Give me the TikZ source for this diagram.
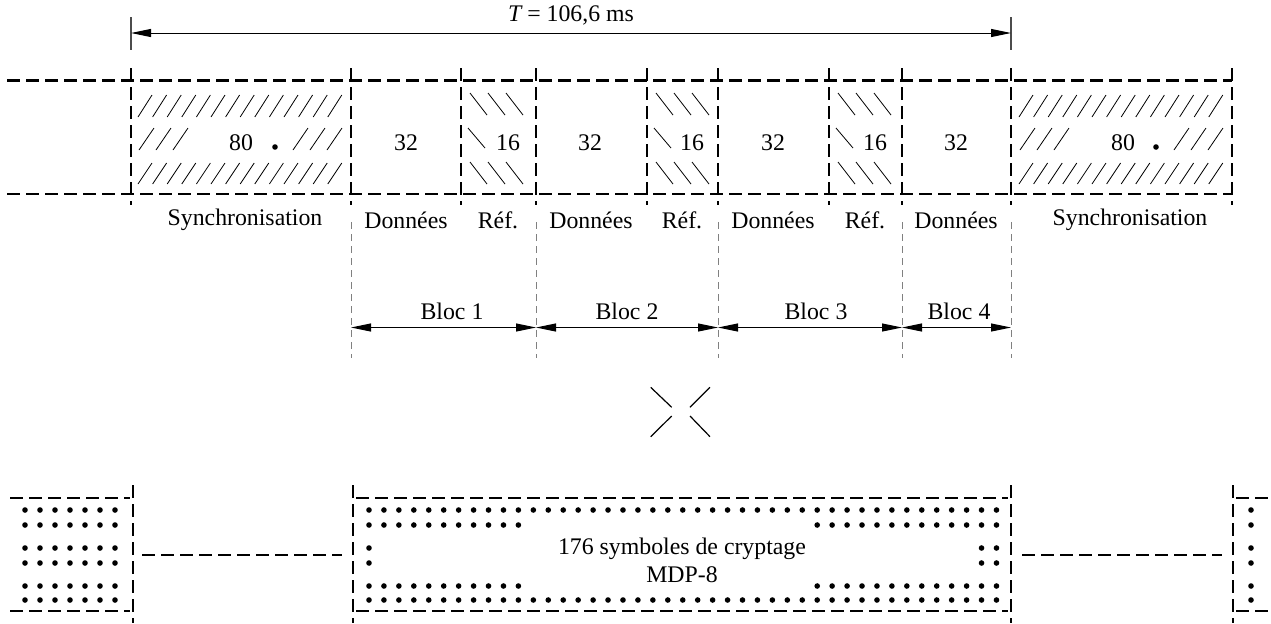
\documentclass[tikz,border=0pt]{standalone}
\usepackage{fontspec}
\setmainfont{Liberation Serif}
\usetikzlibrary{arrows.meta}
\begin{document}
\begin{tikzpicture}[x=0.5pt,y=-0.5pt,
  font=\fontsize{11.9}{14}\selectfont,
  thickdash/.style={line width=1.1pt, dash pattern=on 6.5pt off 3pt},
  thindash/.style={line width=0.5pt, gray, dash pattern=on 3.5pt off 2.5pt},
  hatch/.style={line width=0.4pt},
  dim/.style={line width=0.5pt, {Triangle[length=10pt,width=4pt]}-{Triangle[length=10pt,width=4pt]}},
  tickline/.style={line width=0.6pt, gray!60!black},
  lbl/.style={inner sep=0pt, anchor=center},
  xline/.style={line width=0.6pt}]
\useasboundingbox (0,0) rectangle (1271,623);

% ---- top dimension T
\coordinate (TL) at (131,33);
\coordinate (TR) at (1011,33);
\draw[tickline] (131,17) -- (131,50);
\draw[tickline] (1011,17) -- (1011,50);
\draw[dim] (TL) -- (TR);
\node[lbl] (T) at (571,15) {{\itshape T} = 106,6 ms};

% ---- top row frame
\draw[thickdash] (7,80.5) -- (1232,80.5);
\draw[thickdash] (7,194) -- (1232,194);
\foreach \x in {131,351,461,536,647,718,829,902,1011,1232}
  \draw[thickdash] (\x,68) -- (\x,205);
\foreach \x in {351,536,718,902,1011}
  \draw[thindash] (\x,222) -- (\x,358);

% ---- synchronisation hatching (left and right)
\foreach \o in {0,881}{
  \foreach \i in {0,...,13}{
    \draw[hatch] (138+\o+14.6*\i,117) -- ++(14,-22);
    \draw[hatch] (138+\o+14.6*\i,184) -- ++(14,-21);
  }
  \foreach \i in {0,1,2}{
    \draw[hatch] (139+\o+17*\i,150) -- ++(15,-22);
    \draw[hatch] (293+\o+17*\i,150) -- ++(15,-22);
  }
  \fill (275+\o,147) circle (1.4pt);
}
\node[lbl] (s80a) at (241,143) {80};
\node[lbl] (s80b) at (1123,143) {80};

% ---- reference hatching
\foreach \o in {0,186,368}{
  \foreach \i in {0,1,2}{
    \draw[hatch] (470+\o+18*\i,93) -- ++(17,22);
    \draw[hatch] (470+\o+18*\i,162) -- ++(17,22);
  }
  \draw[hatch] (468+\o,128) -- ++(17,20);
}
\node[lbl] (r1) at (508,143) {16};
\node[lbl] (r2) at (692,143) {16};
\node[lbl] (r3) at (875,143) {16};
\node[lbl] (d1) at (406,143) {32};
\node[lbl] (d2) at (590,143) {32};
\node[lbl] (d3) at (773,143) {32};
\node[lbl] (d4) at (956,143) {32};

% ---- labels under the row
\node[lbl] (ls1) at (245,220) {Synchronisation};
\node[lbl] (ld1) at (406,220) {Données};
\node[lbl] (lr1) at (498,220) {Réf.};
\node[lbl] (ld2) at (591,220) {Données};
\node[lbl] (lr2) at (682,220) {Réf.};
\node[lbl] (ld3) at (773,220) {Données};
\node[lbl] (lr3) at (865,220) {Réf.};
\node[lbl] (ld4) at (956,220) {Données};
\node[lbl] (ls2) at (1130,220) {Synchronisation};

% ---- blocs
\coordinate (b0) at (351,327.5);
\coordinate (b1) at (536,327.5);
\coordinate (b2) at (718,327.5);
\coordinate (b3) at (902,327.5);
\coordinate (b4) at (1011,327.5);
\draw[dim] (b0) -- (b1);
\draw[dim] (b1) -- (b2);
\draw[dim] (b2) -- (b3);
\draw[dim] (b3) -- (b4);
\node[lbl] (B1) at (452,311) {Bloc 1};
\node[lbl] (B2) at (627,311) {Bloc 2};
\node[lbl] (B3) at (816,311) {Bloc 3};
\node[lbl] (B4) at (959,311) {Bloc 4};

% ---- interleaving X
\draw[xline] (650.7,387.3) -- (671.7,407.3);
\draw[xline] (710,387.3) -- (690,407.3);
\draw[xline] (671.7,416) -- (650.7,436.7);
\draw[xline] (690,416) -- (710,436.7);

% ---- bottom frames
\foreach \x in {133,353,1011,1233}
  \draw[thickdash] (\x,485) -- (\x,623);
\draw[thickdash] (10,498) -- (130,498);
\draw[thickdash] (10,611) -- (130,611);
\draw[thickdash] (356,498) -- (1008,498);
\draw[thickdash] (356,611) -- (1008,611);
\draw[thickdash] (1236,498) -- (1271,498);
\draw[thickdash] (1236,611) -- (1271,611);
\coordinate (cl1) at (142,555);
\coordinate (cl2) at (342,555);
\coordinate (cr1) at (1022,555);
\coordinate (cr2) at (1222,555);
\draw[thickdash] (cl1) -- (cl2);
\draw[thickdash] (cr1) -- (cr2);

% ---- dots
\foreach \y in {510,525,548,563,586,600}{
  \foreach \k in {0,...,6} \fill (25+15*\k,\y) circle (1.4pt);
  \fill (1251,\y) circle (1.4pt);
}
\foreach \y in {510,600}
  \foreach \k in {0,...,42} \fill (369+14.94*\k,\y) circle (1.4pt);
\foreach \y in {525,586}{
  \foreach \k in {0,...,10} \fill (369+14.94*\k,\y) circle (1.4pt);
  \foreach \k in {30,...,42} \fill (369+14.94*\k,\y) circle (1.4pt);
}
\foreach \y in {548,563}
  \foreach \k in {0,41,42} \fill (369+14.94*\k,\y) circle (1.4pt);

\node[lbl, align=center] (txt) at (682,560) {176 symboles de cryptage\\MDP-8};
\end{tikzpicture}
\end{document}
